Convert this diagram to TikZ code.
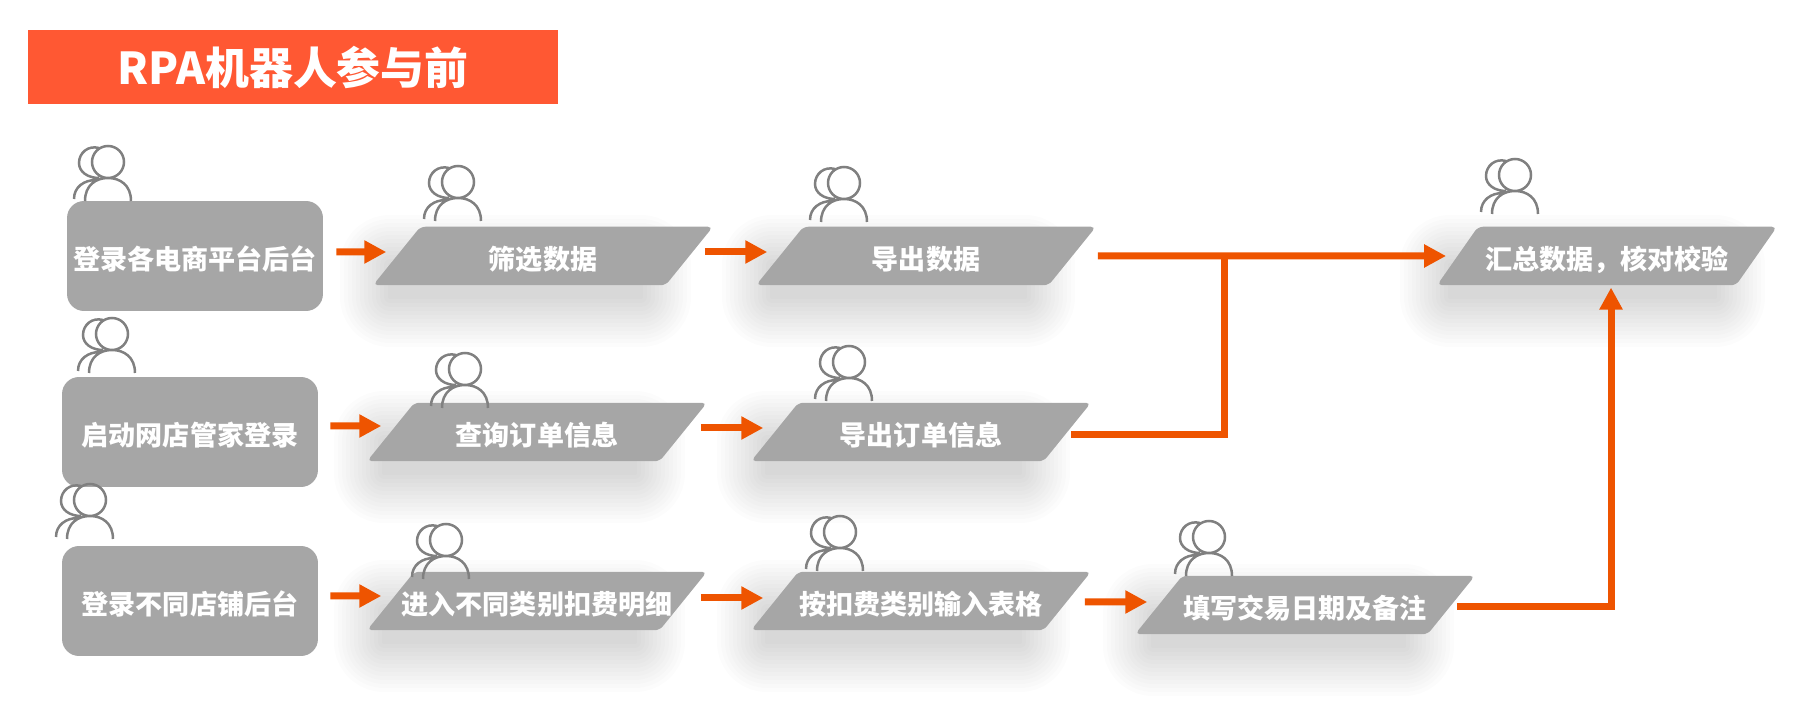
\documentclass[tikz,border=0pt]{standalone}
\usepackage{fontspec}
\setmainfont{Noto Sans CJK SC}
\usetikzlibrary{arrows.meta,shapes.geometric}
\definecolor{banner}{RGB}{255,88,51}
\definecolor{flowc}{RGB}{238,84,0}
\definecolor{boxc}{RGB}{166,166,166}
\definecolor{iconc}{RGB}{128,128,128}
\newcommand{\softshadow}[4]{\foreach \r in {2,6,...,50}{\fill[black,opacity=0.0115,rounded corners=\r*0.02cm] (#1-\r,#2-\r) rectangle (#3+\r,#4+\r);}}
\tikzset{
  rowbox/.style={fill=boxc,rounded corners=0.34cm,minimum width=5.12cm,minimum height=2.2cm,inner sep=0pt,text height=0.56cm,text depth=0cm,text=white,font=\bfseries\fontsize{15.4}{18}\selectfont},
  stepbox/.style={trapezium,trapezium stretches body,trapezium left angle=51,trapezium right angle=129,fill=boxc,rounded corners=0.1cm,minimum width=6.8cm,inner sep=0pt,text height=0.865cm,text depth=0.305cm,text=white,font=\bfseries\fontsize{15.4}{18}\selectfont},
  flow/.style={line width=0.14cm,flowc,-{Triangle[length=0.44cm,width=0.44cm]}},
  trunk/.style={line width=0.14cm,flowc,line join=miter},
  person/.pic={
    \draw[iconc,line width=0.05cm]
      (0,0) circle[radius=16]
      (-23,39) .. controls (-23,23) and (-12,16) .. (0,16) .. controls (12,16) and (23,23) .. (23,39)
      (-9,-14) .. controls (-20,-17) and (-29,-9) .. (-29,1) .. controls (-29,10) and (-20,16) .. (-9,16)
      (-34,37) .. controls (-34,25) and (-24,18) .. (-12,18);
  }
}
\begin{document}
\begin{tikzpicture}[x=0.02cm,y=-0.02cm]
  \useasboundingbox (0,0) rectangle (1806,715);
  % soft shadows under the slanted boxes
  \softshadow{390}{265}{641}{297}
  \softshadow{772}{265}{1025}{297}
  \softshadow{1450}{265}{1715}{297}
  \softshadow{384}{441}{635}{473}
  \softshadow{767}{441}{1020}{473}
  \softshadow{384}{610}{635}{642}
  \softshadow{767}{610}{1020}{642}
  \softshadow{1153}{614}{1404}{646}
  % title
  \node[fill=banner,text=white,minimum width=10.6cm,minimum height=1.48cm,inner sep=0pt,font=\bfseries\fontsize{25}{30}\selectfont] (banner) at (293,67) {RPA机器人参与前};
  % row 1
  \node[rowbox] (login) at (195,256) {登录各电商平台后台};
  \node[stepbox] (filter) at (543,256) {筛选数据};
  \node[stepbox] (export) at (926,256) {导出数据};
  \node[stepbox,trapezium left angle=55,trapezium right angle=125] (check) at (1607,256) {汇总数据，核对校验};
  % row 2
  \node[rowbox] (start) at (190,432) {启动网店管家登录};
  \node[stepbox] (query) at (537,432) {查询订单信息};
  \node[stepbox] (orders) at (921,432) {导出订单信息};
  % row 3 (long label runs over the slanted sides)
  \node[rowbox] (shops) at (190,601) {登录不同店铺后台};
  \node[stepbox] (detail) at (537,601) {\makebox[4.8cm]{进入不同类别扣费明细}};
  \node[stepbox] (sheet) at (921,601) {\makebox[4.8cm]{按扣费类别输入表格}};
  \node[stepbox] (note) at (1305,605) {\makebox[4.8cm]{填写交易日期及备注}};
  % people
  \foreach \px/\py in {108/162,458/182,844/183,1515/175,112/334,465/369,849/362,90/500,446/540,840/532,1209/537}
    \pic at (\px,\py) {person};
  % short arrows
  \draw[flow,shorten <=0.26cm,shorten >=0.2cm] ([yshift=0.08cm]login.east) -- ([yshift=0.08cm]filter.west);
  \draw[flow,shorten <=0.3cm,shorten >=0.24cm] ([yshift=0.08cm]filter.east) -- ([yshift=0.08cm]export.west);
  \draw[flow,shorten <=0.24cm,shorten >=0.18cm] ([yshift=0.12cm]start.east) -- ([yshift=0.12cm]query.west);
  \draw[flow,shorten <=0.34cm,shorten >=0.22cm] ([yshift=0.08cm]query.east) -- ([yshift=0.08cm]orders.west);
  \draw[flow,shorten <=0.24cm,shorten >=0.18cm] ([yshift=0.1cm]shops.east) -- ([yshift=0.1cm]detail.west);
  \draw[flow,shorten <=0.34cm,shorten >=0.22cm] ([yshift=0.06cm]detail.east) -- ([yshift=0.06cm]sheet.west);
  \draw[flow,shorten <=0.34cm,shorten >=0.22cm] ([yshift=-0.02cm]sheet.east) -- ([yshift=0.06cm]note.west);
  % long connectors
  \coordinate (merge) at (1224,256);
  \draw[flow,shorten <=0.5cm,shorten >=0.22cm] (export.east) -- (check.west);
  \draw[trunk,shorten <=0.06cm] ([yshift=-0.06cm]orders.east) -| (merge);
  \draw[flow,shorten <=0.1cm] ([yshift=-0.04cm]note.east) -| ([xshift=0.08cm,yshift=-0.04cm]check.south);
\end{tikzpicture}
\end{document}
